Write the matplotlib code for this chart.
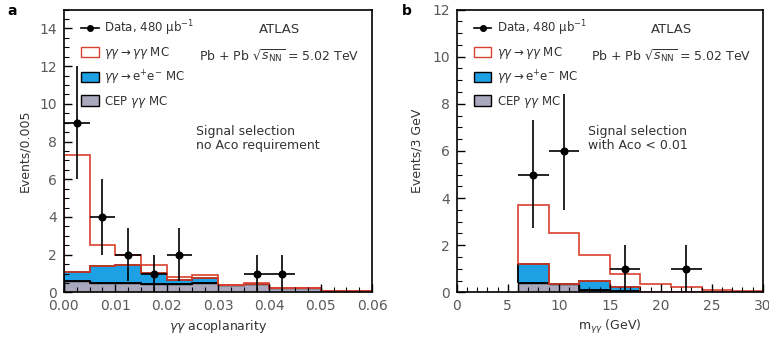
import numpy as np
import matplotlib as mpl

mpl.use('Agg')
import matplotlib.pyplot as plt
from matplotlib.patches import Patch
from matplotlib.lines import Line2D
from matplotlib.ticker import MultipleLocator

# panel a: acoplanarity, bins of 0.005
edges_a = [0.0, 0.005, 0.01, 0.015, 0.02, 0.025, 0.03, 0.035, 0.04, 0.045, 0.05, 0.055, 0.06]
cep_a = [0.58, 0.52, 0.49, 0.45, 0.45, 0.49, 0.37, 0.45, 0.23, 0.23, 0.10, 0.10]
ee_a = [0.50, 0.86, 0.96, 0.58, 0.22, 0.28, 0.0, 0.0, 0.0, 0.0, 0.0, 0.0]
yy_a = [6.22, 1.12, 0.55, 0.44, 0.17, 0.16, 0.03, 0.04, 0.0, 0.0, 0.0, 0.0]
data_x_a = [0.0025, 0.0075, 0.0125, 0.0175, 0.0225, 0.0375, 0.0425]
data_y_a = [9, 4, 2, 1, 2, 1, 1]
data_lo_a = [6.0, 2.0, 0.6, 0.0, 0.6, 0.0, 0.0]
data_hi_a = [12.0, 6.0, 3.4, 2.0, 3.4, 2.0, 2.0]

# panel b: diphoton mass, bins of 3 GeV
edges_b = [0, 3, 6, 9, 12, 15, 18, 21, 24, 27, 30]
cep_b = [0.0, 0.0, 0.38, 0.36, 0.10, 0.05, 0.0, 0.0, 0.0, 0.0]
ee_b = [0.0, 0.0, 0.82, 0.0, 0.37, 0.17, 0.0, 0.0, 0.0, 0.0]
yy_b = [0.0, 0.0, 2.49, 2.14, 1.11, 0.57, 0.37, 0.21, 0.11, 0.06]
data_x_b = [7.5, 10.5, 16.5, 22.5]
data_y_b = [5, 6, 1, 1]
data_lo_b = [2.75, 3.5, 0.0, 0.0]
data_hi_b = [7.3, 8.4, 2.0, 2.0]

RED = '#d8412f'
BLUE = '#1ea0e4'
GREY = '#a9a8bd'
TXT = '#333333'


def draw_panel(ax, edges, cep, ee, yy, dx, dy, dlo, dhi, hist_range, mc_range):
    edges = np.array(edges, dtype=float)
    cep, ee, yy = np.array(cep), np.array(ee), np.array(yy)
    i0, i1 = mc_range
    e = edges[i0:i1 + 1]
    c = cep[i0:i1]
    b = (cep + ee)[i0:i1]
    ax.stairs(c, e, baseline=0, fill=True, facecolor=GREY, edgecolor='none')
    ax.stairs(b, e, baseline=c, fill=True, facecolor=BLUE, edgecolor='none')
    ax.stairs(c, e, baseline=0, color='k', lw=1.0)
    ax.stairs(b, e, baseline=c, color='k', lw=1.3)
    j0, j1 = hist_range
    tot = (cep + ee + yy)[j0:j1]
    below = (cep + ee)[j0:j1]
    ax.stairs(tot, edges[j0:j1 + 1], baseline=below, color=RED, lw=1.2)

    half = (edges[1] - edges[0]) / 2
    dy = np.array(dy, dtype=float)
    yerr = [dy - np.array(dlo), np.array(dhi) - dy]
    ax.errorbar(dx, dy, xerr=half, yerr=yerr, fmt='o', color='k', ms=4.8,
                lw=1.2, capsize=0, zorder=5, clip_on=False)


fig = plt.figure(figsize=(7.69, 3.40), dpi=100)
ax_a = fig.add_axes([0.083, 0.140, 0.401, 0.832])
ax_b = fig.add_axes([0.594, 0.140, 0.398, 0.832])

draw_panel(ax_a, edges_a, cep_a, ee_a, yy_a, data_x_a, data_y_a, data_lo_a, data_hi_a,
           (0, 12), (0, 12))
draw_panel(ax_b, edges_b, cep_b, ee_b, yy_b, data_x_b, data_y_b, data_lo_b, data_hi_b,
           (2, 10), (2, 6))

ax_a.set_xlim(0, 0.06)
ax_a.set_ylim(0, 15)
ax_a.xaxis.set_major_locator(MultipleLocator(0.01))
ax_a.xaxis.set_minor_locator(MultipleLocator(0.0025))
ax_a.xaxis.set_major_formatter(mpl.ticker.FormatStrFormatter('%.2f'))
ax_a.yaxis.set_major_locator(MultipleLocator(2))
ax_a.yaxis.set_minor_locator(MultipleLocator(0.5))
ax_a.set_xlabel(r'$\gamma\gamma$ acoplanarity', fontsize=9, color=TXT, labelpad=4)
ax_a.set_ylabel('Events/0.005', fontsize=9, color=TXT, labelpad=6)

ax_b.set_xlim(0, 30)
ax_b.set_ylim(0, 12)
ax_b.xaxis.set_major_locator(MultipleLocator(5))
ax_b.xaxis.set_minor_locator(MultipleLocator(1))
ax_b.yaxis.set_major_locator(MultipleLocator(2))
ax_b.yaxis.set_minor_locator(MultipleLocator(0.5))
ax_b.set_xlabel(r'm$_{\gamma\gamma}$ (GeV)', fontsize=9, color=TXT, labelpad=4)
ax_b.set_ylabel('Events/3 GeV', fontsize=9, color=TXT, labelpad=6)

handles = [
    Line2D([], [], color='k', marker='o', ms=4, lw=1.2),
    Patch(facecolor='white', edgecolor=RED, lw=1.0),
    Patch(facecolor=BLUE, edgecolor='k', lw=1.0),
    Patch(facecolor=GREY, edgecolor='k', lw=1.0),
]
labels = [r'Data, 480 $\mathrm{\mu b^{-1}}$',
          r'$\gamma\gamma \rightarrow \gamma\gamma$ MC',
          r'$\gamma\gamma \rightarrow \mathrm{e^{+}e^{-}}$ MC',
          r'CEP $\gamma\gamma$ MC']

for ax, sel in [(ax_a, 'Signal selection\nno Aco requirement'),
                (ax_b, 'Signal selection\nwith Aco < 0.01')]:
    ax.tick_params(which='both', direction='in', top=False, right=False,
                   labelsize=10, labelcolor='#5a5a5a')
    ax.tick_params(axis='x', pad=4.5)
    ax.tick_params(axis='y', pad=5)
    ax.tick_params(which='major', length=6, width=1)
    ax.tick_params(which='minor', length=3.5, width=0.8)
    for s in ax.spines.values():
        s.set_linewidth(1.2)
    leg = ax.legend(handles, labels, loc='upper left', bbox_to_anchor=(0.04, 0.985),
                    frameon=False, fontsize=8.5, handlelength=1.5, handleheight=1.0,
                    labelspacing=0.6, handletextpad=0.5, borderaxespad=0)
    for t in leg.get_texts():
        t.set_color(TXT)
    ax.text(0.70, 0.93, 'ATLAS', transform=ax.transAxes, ha='center', va='center',
            fontsize=9.5, color=TXT)
    ax.text(0.70, 0.835, r'Pb + Pb $\sqrt{s_{\mathrm{NN}}}$ = 5.02 TeV', transform=ax.transAxes,
            ha='center', va='center', fontsize=9, color=TXT)
    ax.text(0.43, 0.545, sel, transform=ax.transAxes, ha='left', va='center',
            fontsize=9, color=TXT, linespacing=1.1)

fig.text(0.010, 0.955, 'a', fontsize=10, fontweight='bold')
fig.text(0.523, 0.955, 'b', fontsize=10, fontweight='bold')

fig.savefig('out.png', dpi=100)
